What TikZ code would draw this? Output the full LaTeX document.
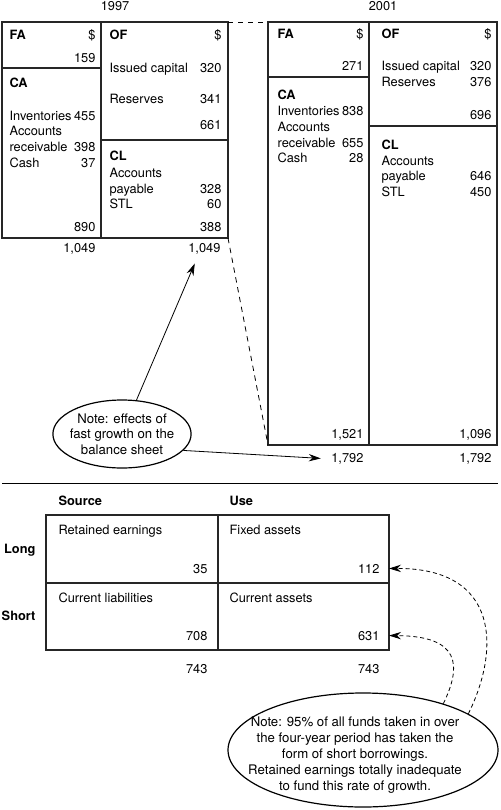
\documentclass[tikz,border=0pt]{standalone}
\usepackage{fontspec}
\setmainfont{TeX Gyre Heros}
\usepackage{tikz}
\usetikzlibrary{arrows.meta,calc,fit,shapes}
\tikzstyle{cell}=[rectangle, draw=black!85, line width=1pt, inner sep=0pt, outer sep=0pt]
\tikzstyle{txt}=[inner sep=1pt, font=\fontsize{9.6}{11.6}\selectfont]
\tikzstyle{hd}=[inner sep=1pt, font=\fontsize{9.6}{11.6}\selectfont\bfseries]
\tikzstyle{note}=[ellipse, draw, line width=0.9pt, inner ysep=0pt, inner xsep=-2.5pt, align=center, font=\fontsize{9.9}{11.8}\selectfont]
\tikzstyle{link}=[dashed, line width=0.6pt, dash pattern=on 4pt off 3.5pt]
\tikzstyle{fund}=[line width=0.6pt, dash pattern=on 3pt off 2.2pt]

\begin{document}
\begin{tikzpicture}[x=0.75pt,y=-0.75pt,>={Stealth[length=9pt,width=5.5pt]}]
	\useasboundingbox (0,0) rectangle (500,810);
	% 1997 balance sheet
	\node[txt,anchor=base] (y97) at (115,10) {1997};
	\node[cell,fit={(2,22)(101,68)}] (fa97) {};
	\node[cell,fit={(2,68)(101,238)}] (ca97) {};
	\node[cell,fit={(101,22)(228,140)}] (of97) {};
	\node[cell,fit={(101,140)(228,238)}] (cl97) {};
	
	\node[hd,anchor=base west] (fa97h) at (8,39) {FA};
	\node[txt,anchor=base east] (fa97c) at (97,39) {\$};
	\node[txt,anchor=base east] (fa97v) at (97,62) {159};
	\node[hd,anchor=base west] (ca97h) at (8,87) {CA};
	\node[txt,anchor=base west] (inv97) at (8,120) {Inventories};
	\node[txt,anchor=base east] (inv97v) at (97,120) {455};
	\node[txt,anchor=base west] (acc97) at (8,135) {Accounts};
	\node[txt,anchor=base west] (rec97) at (8,151) {receivable};
	\node[txt,anchor=base east] (rec97v) at (97,151) {398};
	\node[txt,anchor=base west] (cash97) at (8,167) {Cash};
	\node[txt,anchor=base east] (cash97v) at (97,167) {37};
	\node[txt,anchor=base east] (ca97v) at (97,231) {890};
	
	\node[hd,anchor=base west] (of97h) at (108,39) {OF};
	\node[txt,anchor=base east] (of97c) at (223,39) {\$};
	\node[txt,anchor=base west] (cap97) at (108,72) {Issued capital};
	\node[txt,anchor=base east] (cap97v) at (223,72) {320};
	\node[txt,anchor=base west] (res97) at (108,103) {Reserves};
	\node[txt,anchor=base east] (res97v) at (223,103) {341};
	\node[txt,anchor=base east] (of97v) at (223,129) {661};
	\node[hd,anchor=base west] (cl97h) at (108,160) {CL};
	\node[txt,anchor=base west] (ap97) at (108,177) {Accounts};
	\node[txt,anchor=base west] (pay97) at (108,193) {payable};
	\node[txt,anchor=base east] (pay97v) at (223,193) {328};
	\node[txt,anchor=base west] (stl97) at (108,208) {STL};
	\node[txt,anchor=base east] (stl97v) at (223,208) {60};
	\node[txt,anchor=base east] (cl97v) at (223,231) {388};
	
	\node[txt,anchor=base east] (tot97l) at (97,252) {1,049};
	\node[txt,anchor=base east] (tot97r) at (222,252) {1,049};
	
	% 2001 balance sheet
	\node[txt,anchor=base] (y01) at (383,10) {2001};
	\node[cell,fit={(268,22)(369,77)}] (fa01) {};
	\node[cell,fit={(268,77)(369,445)}] (ca01) {};
	\node[cell,fit={(369,22)(497,126)}] (of01) {};
	\node[cell,fit={(369,126)(497,445)}] (cl01) {};
	
	\node[hd,anchor=base west] (fa01h) at (276,38) {FA};
	\node[txt,anchor=base east] (fa01c) at (365,38) {\$};
	\node[txt,anchor=base east] (fa01v) at (365,70) {271};
	\node[hd,anchor=base west] (ca01h) at (276,99) {CA};
	\node[txt,anchor=base west] (inv01) at (276,115) {Inventories};
	\node[txt,anchor=base east] (inv01v) at (365,115) {838};
	\node[txt,anchor=base west] (acc01) at (276,131) {Accounts};
	\node[txt,anchor=base west] (rec01) at (276,147) {receivable};
	\node[txt,anchor=base east] (rec01v) at (365,147) {655};
	\node[txt,anchor=base west] (cash01) at (276,162) {Cash};
	\node[txt,anchor=base east] (cash01v) at (365,162) {28};
	\node[txt,anchor=base east] (ca01v) at (365,438) {1,521};
	
	\node[hd,anchor=base west] (of01h) at (380,38) {OF};
	\node[txt,anchor=base east] (of01c) at (493,38) {\$};
	\node[txt,anchor=base west] (cap01) at (380,70) {Issued capital};
	\node[txt,anchor=base east] (cap01v) at (493,70) {320};
	\node[txt,anchor=base west] (res01) at (380,86) {Reserves};
	\node[txt,anchor=base east] (res01v) at (493,86) {376};
	\node[txt,anchor=base east] (of01v) at (493,119) {696};
	\node[hd,anchor=base west] (cl01h) at (380,149) {CL};
	\node[txt,anchor=base west] (ap01) at (380,165) {Accounts};
	\node[txt,anchor=base west] (pay01) at (380,180) {payable};
	\node[txt,anchor=base east] (pay01v) at (493,180) {646};
	\node[txt,anchor=base west] (stl01) at (380,196) {STL};
	\node[txt,anchor=base east] (stl01v) at (493,196) {450};
	\node[txt,anchor=base east] (cl01v) at (493,438) {1,096};
	
	\node[txt,anchor=base east] (tot01l) at (365,462) {1,792};
	\node[txt,anchor=base east] (tot01r) at (493,462) {1,792};
	
	\draw[link] (of97.north east) -- (fa01.north west);
	\draw[link] (cl97.south east) -- (ca01.south west);
	
	\node[note,minimum width=94.5pt,minimum height=51pt] (note1) at (122,434) {Note: effects of\\fast growth on the\\balance sheet};
	\draw[->,line width=0.6pt] (note1) -- ($(tot97r.south west)+(8,8)$);
	\draw[->,line width=0.6pt] (note1.-15) -- ($(tot01l.west)+(-9,0)$);
	
	\draw[line width=0.6pt] (2,483) -- (498,483);
	
	% sources and uses of funds
	\node[hd,anchor=base west] (src) at (57,505) {Source};
	\node[hd,anchor=base west] (use) at (228,505) {Use};
	\node[hd,anchor=base east] (long) at (37,553) {Long};
	\node[hd,anchor=base east] (short) at (37,620) {Short};
	
	\node[cell,fit={(46,515)(218,583)}] (re) {};
	\node[cell,fit={(218,515)(389,583)}] (fx) {};
	\node[cell,fit={(46,583)(218,650)}] (cli) {};
	\node[cell,fit={(218,583)(389,650)}] (cas) {};
	
	\node[txt,anchor=base west] (reh) at (57,534) {Retained earnings};
	\node[txt,anchor=base east] (n35) at (209,573) {35};
	\node[txt,anchor=base west] (fxh) at (228,534) {Fixed assets};
	\node[txt,anchor=base east] (n112) at (381,573) {112};
	\node[txt,anchor=base west] (clih) at (57,602) {Current liabilities};
	\node[txt,anchor=base east] (n708) at (209,640) {708};
	\node[txt,anchor=base west] (cash) at (228,602) {Current assets};
	\node[txt,anchor=base east] (n631) at (381,640) {631};
	\node[txt,anchor=base east] (totsrc) at (209,673) {743};
	\node[txt,anchor=base east] (totuse) at (381,673) {743};
	
	\node[note,minimum width=202.5pt,minimum height=85.5pt] (note2) at (363,750) {};
	\node[txt,align=center,font=\fontsize{9.9}{12}\selectfont] (note2t) at (355,755) {Note: 95\% of all funds taken in over\\the four-year period has taken the\\form of short borrowings.\\Retained earnings totally inadequate\\to fund this rate of growth.};
	\draw[->,fund] (note2.19) .. controls (500,650) and (500,568) .. (fx.east |- n112);
	\draw[->,fund] (note2.30) .. controls (462,665) and (460,636) .. (cas.east |- n631);
\end{tikzpicture}
\end{document}
